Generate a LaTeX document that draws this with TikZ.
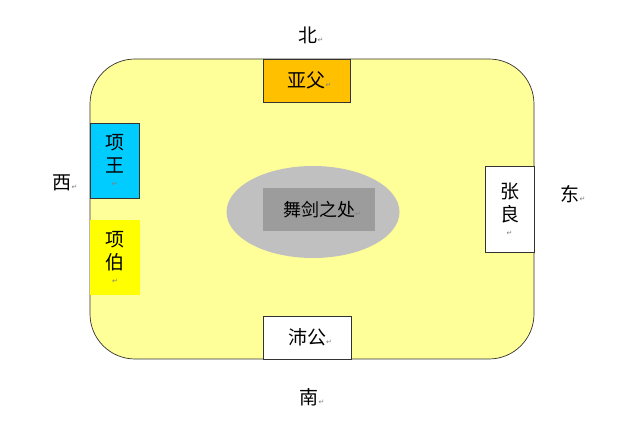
\documentclass[tikz,border=0pt]{standalone}
\usepackage{fontspec}
\usepackage{xcolor}
\usepackage{tikz}
\usetikzlibrary{positioning,shapes.geometric}
\newfontfamily\cjk{Noto Sans CJK SC}
\newfontfamily\markfont{DejaVu Sans}
\definecolor{hallyellow}{HTML}{FFFF99}
\definecolor{yafuorange}{HTML}{FFC000}
\definecolor{xiangcyan}{HTML}{00CCFF}
\definecolor{bopyellow}{HTML}{FFFF00}
\definecolor{floorgrey}{HTML}{C0C0C0}
\definecolor{signgrey}{HTML}{9C9C9C}
\definecolor{edgegrey}{HTML}{333333}
\newcommand{\retmark}{{\markfont\fontsize{7}{7}\selectfont\color{gray}↵}}

\begin{document}
\begin{tikzpicture}[
  x=1pt,y=-1pt,
  seat/.style={draw=edgegrey,line width=0.8pt,inner sep=0pt,align=center,font=\cjk\fontsize{19}{23}\selectfont},
  dirlabel/.style={inner sep=0pt,font=\cjk\fontsize{19}{22}\selectfont}
]
\useasboundingbox (0,0) rectangle (640,427);
% the tent
\draw[fill=hallyellow,draw=edgegrey,line width=0.7pt,rounded corners=45pt] (90,59) rectangle (534,359);
\node[ellipse,fill=floorgrey,minimum width=173pt,minimum height=92pt,inner sep=0pt] (arena) at (313,212) {};
\node[fill=signgrey,minimum width=112pt,minimum height=43pt,inner sep=0pt,font=\cjk\fontsize{18}{22}\selectfont] (wujian) at (319,209.5) {舞剑之处\rlap{\retmark}};
% seats
\node[seat,fill=yafuorange,minimum width=87pt,minimum height=43pt] (yafu) at (306.5,80.5) {亚父\rlap{\retmark}};
\node[seat,fill=xiangcyan,minimum width=49pt,minimum height=75pt] (xiangwang) at (114.5,160.5) {项\\王\\[-9pt]\retmark};
\node[seat,draw=none,fill=bopyellow,minimum width=50pt,minimum height=75pt] (xiangbo) at (115,257.5) {项\\伯\\[-9pt]\retmark};
\node[seat,fill=white,minimum width=49pt,minimum height=86pt] (zhangliang) at (509.5,209) {张\\良\\[-9pt]\retmark};
\node[seat,fill=white,minimum width=88pt,minimum height=43pt] (peigong) at (307,337.5) {沛公\rlap{\retmark}};
% directions
\node[dirlabel] (bei) at (308,35) {北\rlap{\retmark}};
\node[dirlabel] (xi) at (62,183) {西\rlap{\retmark}};
\node[dirlabel] (dong) at (570,194) {东\rlap{\retmark}};
\node[dirlabel] (nan) at (309,397) {南\rlap{\retmark}};
\end{tikzpicture}
\end{document}
